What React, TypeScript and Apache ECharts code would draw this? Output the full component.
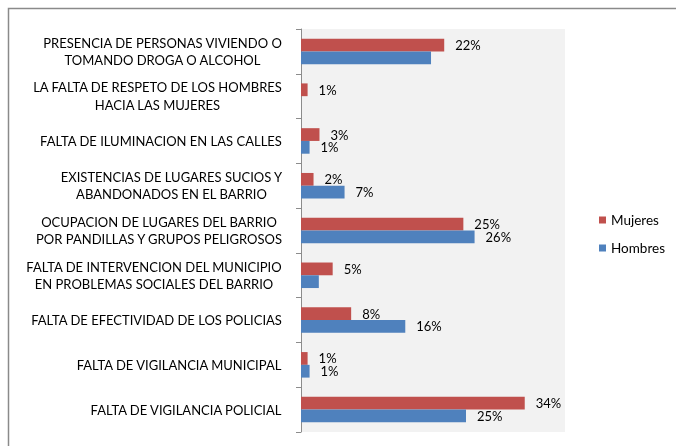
import React, { useEffect, useRef } from "react";
import * as echarts from "echarts";

const categories = [
  "PRESENCIA DE PERSONAS VIVIENDO O\nTOMANDO DROGA O ALCOHOL",
  "LA FALTA DE RESPETO DE LOS HOMBRES\nHACIA LAS MUJERES",
  "FALTA DE ILUMINACION EN LAS CALLES",
  "EXISTENCIAS DE LUGARES SUCIOS Y\nABANDONADOS EN EL BARRIO",
  "OCUPACION DE LUGARES DEL BARRIO\nPOR PANDILLAS Y GRUPOS PELIGROSOS",
  "FALTA DE INTERVENCION DEL MUNICIPIO\nEN PROBLEMAS SOCIALES DEL BARRIO",
  "FALTA DE EFECTIVIDAD DE LOS POLICIAS",
  "FALTA DE VIGILANCIA MUNICIPAL",
  "FALTA DE VIGILANCIA POLICIAL",
];
const mujeres = [21.7, 1.0, 2.8, 1.9, 24.6, 4.8, 7.6, 1.0, 33.9];
const hombres = [19.7, 0, 1.3, 6.6, 26.3, 2.7, 15.8, 1.3, 25.0];
const mujeresLabelShown = [true, true, true, true, true, true, true, true, true];
const hombresLabelShown = [false, false, true, true, true, false, true, true, true];
const seriesNames = ["Mujeres", "Hombres"];

const FONT = "Lato";
const CAT_SIZE = 13;

function measure(text: string, size: number) {
  const c = document.createElement("canvas");
  const ctx = c.getContext("2d")!;
  ctx.font = `${size}px ${FONT}`;
  return ctx.measureText(text).width;
}

export default function App() {
  const ref = useRef<HTMLDivElement>(null);
  useEffect(() => {
    if (!ref.current) return;
    const chart = echarts.init(ref.current, undefined, { renderer: "svg" });
    const rich: Record<string, any> = {};
    categories.forEach((c, i) => {
      const w = Math.max(...c.split("\n").map((l) => measure(l, CAT_SIZE)));
      rich["c" + i] = {
        width: Math.ceil(w) + 1,
        align: "center",
        fontSize: CAT_SIZE,
        fontFamily: FONT,
        color: "#000",
        lineHeight: 17.5,
      };
    });
    const labelStyle = {
      position: "right",
      distance: 11,
      fontSize: 13,
      fontFamily: FONT,
      color: "#000",
      formatter: (p: any) => Math.round(p.value) + "%",
    };
    chart.setOption({
      animation: false,
      graphic: [
        {
          type: "rect",
          shape: { x: 8.5, y: 8.5, width: 700, height: 500 },
          style: { fill: "none", stroke: "#8a8a8a", lineWidth: 1.5 },
          silent: true,
        },
      ],
      grid: {
        left: 301,
        right: 111,
        top: 29,
        bottom: 14,
        show: true,
        backgroundColor: "#f2f2f2",
        borderWidth: 0,
      },
      legend: {
        orient: "vertical",
        left: 594,
        top: 207,
        icon: "rect",
        itemWidth: 7,
        itemHeight: 7,
        itemGap: 12,
        data: seriesNames,
        textStyle: { fontSize: 13.5, fontFamily: FONT, color: "#000", lineHeight: 16 },
      },
      xAxis: {
        type: "value",
        min: 0,
        max: 40,
        show: false,
        splitLine: { show: false },
      },
      yAxis: {
        type: "category",
        inverse: true,
        data: categories,
        axisLine: { show: true, lineStyle: { color: "#8c8c8c", width: 1 } },
        axisTick: { show: true, length: 5, lineStyle: { color: "#8c8c8c" } },
        axisLabel: {
          margin: 18,
          formatter: (v: string, i: number) =>
            v
              .split("\n")
              .map((l) => `{c${i}|${l}}`)
              .join("\n"),
          rich,
        },
      },
      series: [
        {
          name: seriesNames[0],
          type: "bar",
          barGap: "0%",
          barCategoryGap: "43%",
          itemStyle: { color: "#c0504d" },
          data: mujeres.map((v, i) => ({
            value: v,
            label: { show: mujeresLabelShown[i] },
          })),
          label: labelStyle,
        },
        {
          name: seriesNames[1],
          type: "bar",
          barGap: "0%",
          barCategoryGap: "43%",
          itemStyle: { color: "#4f81bd" },
          data: hombres.map((v, i) => ({
            value: v,
            label: { show: hombresLabelShown[i] },
          })),
          label: labelStyle,
        },
      ],
    });
    return () => chart.dispose();
  }, []);
  return (
    <div
      ref={ref}
      style={{ position: "fixed", left: 0, top: 0, width: 676, height: 446 }}
    />
  );
}
